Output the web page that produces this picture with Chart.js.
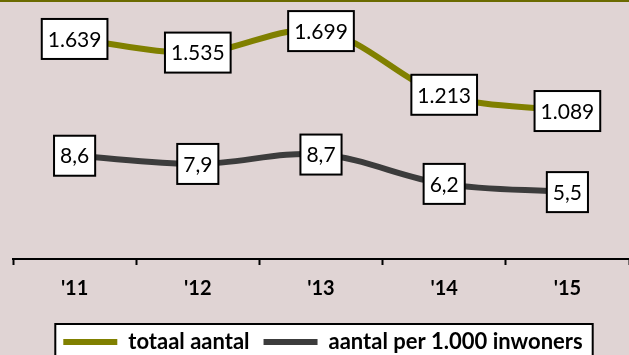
<!DOCTYPE html>
<html>
<head>
<meta charset="utf-8">
<script src="https://cdn.jsdelivr.net/npm/chart.js@4.4.1/dist/chart.umd.min.js"></script>
<style>
  html, body { margin: 0; padding: 0; background: #e0d4d4; }
  #wrap { width: 629px; height: 355px; position: relative; }
</style>
</head>
<body>
<div id="wrap"><canvas id="chart"></canvas></div>
<script>
const years = ["'11", "'12", "'13", "'14", "'15"];
const totaalAantal = [1639, 1535, 1699, 1213, 1089];
const perDuizend = [8.6, 7.9, 8.7, 6.2, 5.5];
const seriesNames = ["totaal aantal", "aantal per 1.000 inwoners"];

const bg = "#e0d4d4";
const olive = "#808000";
const darkGrey = "#3c3c3c";

function formatNl(v) {
  if (Number.isInteger(v)) {
    return String(v).replace(/\B(?=(\d{3})+(?!\d))/g, ".");
  }
  return v.toFixed(1).replace(".", ",");
}

// background, top rule and white legend frame
const framePlugin = {
  id: "frame",
  beforeDraw(chart) {
    const ctx = chart.ctx;
    ctx.save();
    ctx.fillStyle = bg;
    ctx.fillRect(0, 0, chart.width, chart.height);
    ctx.fillStyle = "#6b6b00";
    ctx.fillRect(0, 0, chart.width, 2);

    const lg = chart.legend;
    if (lg && lg.legendHitBoxes.length) {
      const hb = lg.legendHitBoxes;
      const left = Math.min(...hb.map(b => b.left)) - 8;
      const right = Math.max(...hb.map(b => b.left + b.width)) + 10;
      const top = hb[0].top - 7;
      ctx.fillStyle = "#ffffff";
      ctx.fillRect(left, top, right - left, chart.height - top + 10);
      ctx.strokeStyle = "#000000";
      ctx.lineWidth = 2;
      ctx.strokeRect(left, top, right - left, chart.height - top + 10);
    }
    ctx.restore();
  },
};

// boxed value labels on each point
const valueLabels = {
  id: "valueLabels",
  afterDatasetsDraw(chart) {
    const ctx = chart.ctx;
    ctx.save();
    ctx.font = "21px Lato";
    ctx.textAlign = "center";
    ctx.textBaseline = "middle";
    chart.data.datasets.forEach((ds, i) => {
      const meta = chart.getDatasetMeta(i);
      meta.data.forEach((pt, j) => {
        const txt = formatNl(ds.data[j]);
        const w = ctx.measureText(txt).width + 12;
        const h = 40;
        ctx.fillStyle = "#ffffff";
        ctx.fillRect(pt.x - w / 2, pt.y - h / 2, w, h);
        ctx.strokeStyle = "#000000";
        ctx.lineWidth = 2;
        ctx.strokeRect(pt.x - w / 2, pt.y - h / 2, w, h);
        ctx.fillStyle = "#000000";
        ctx.fillText(txt, pt.x, pt.y + 1);
      });
    });
    ctx.restore();
  },
};

const ctx = document.getElementById("chart").getContext("2d");

new Chart(ctx, {
  type: "line",
  data: {
    labels: years,
    datasets: [
      {
        label: seriesNames[0],
        data: totaalAantal,
        borderColor: olive,
        backgroundColor: olive,
        borderWidth: 6,
        pointRadius: 0,
        tension: 0.35,
        yAxisID: "y",
      },
      {
        label: seriesNames[1],
        data: perDuizend,
        borderColor: darkGrey,
        backgroundColor: darkGrey,
        borderWidth: 6,
        pointRadius: 0,
        tension: 0.35,
        yAxisID: "y2",
      },
    ],
  },
  options: {
    responsive: true,
    maintainAspectRatio: false,
    animation: false,
    layout: {
      padding: { top: 2, left: 13, right: -4, bottom: -8 },
    },
    plugins: {
      legend: {
        position: "bottom",
        labels: {
          color: "#000000",
          font: { family: "Lato", size: 22, weight: "bold" },
          usePointStyle: true,
          pointStyle: "line",
          pointStyleWidth: 54,
          padding: 14,
        },
      },
      tooltip: { enabled: false },
    },
    scales: {
      x: {
        offset: true,
        grid: {
          offset: true,
          drawOnChartArea: false,
          drawTicks: true,
          tickLength: 6,
          tickColor: "#000000",
          tickWidth: 2,
        },
        border: { color: "#000000", width: 2 },
        ticks: {
          color: "#000000",
          padding: 12,
          font: { family: "Lato", size: 20, weight: "bold" },
        },
        afterFit(scale) {
          scale.height = 58;
        },
      },
      y: {
        display: false,
        min: -40,
        max: 1921,
      },
      y2: {
        display: false,
        min: -0.2,
        max: 21.7,
      },
    },
  },
  plugins: [framePlugin, valueLabels],
});
</script>
</body>
</html>
